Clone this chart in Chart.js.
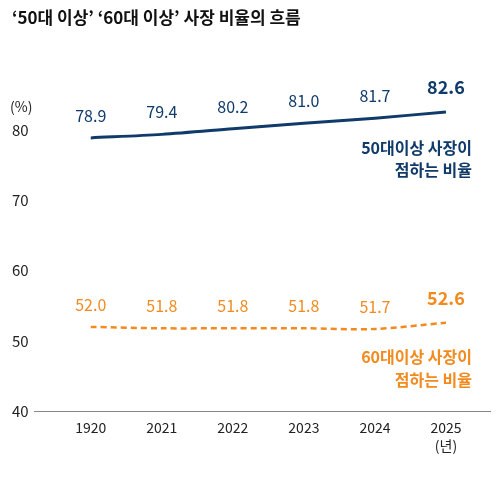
<!DOCTYPE html><html><head><meta charset="utf-8">
<script src="https://cdn.jsdelivr.net/npm/chart.js@4"></script>
<style>body{margin:0;background:#fff}#w{width:500px;height:480px}</style></head><body><div id="w"><canvas id="c"></canvas></div>
<script>
const categories=['1920','2021','2022','2023','2024','2025'];
const over50=[78.9,79.4,80.2,81.0,81.7,82.6];
const over60=[52.0,51.8,51.8,51.8,51.7,52.6];
const yTicks=[40,50,60,70,80];
const NAVY='#0f3a6a',ORANGE='#f28a1e';
const F="'Noto Sans CJK KR','Noto Sans',sans-serif";
const labels={id:'lab',afterDatasetsDraw(ch){const c=ch.ctx;c.save();
 c.fillStyle='#111';c.font="bold 17px "+F;c.textAlign='left';c.textBaseline='middle';
 c.fillText('‘50대 이상’ ‘60대 이상’ 사장 비율의 흐름',12,18);
 c.font="14px "+F;c.fillStyle='#222';c.fillText('(%)',10,107);
 const xs=ch.scales.x,ys=ch.scales.y;
 c.textAlign='center';c.fillText('(년)',xs.getPixelForValue(5),446);
 [[over50,NAVY],[over60,ORANGE]].forEach(([d,col])=>{c.fillStyle=col;d.forEach((v,i)=>{
  c.font=(i==5?"bold 18px ":"16px ")+F;
  c.fillText(v.toFixed(1),xs.getPixelForValue(i),ys.getPixelForValue(v)-(i==5?25:22));});});
 c.textAlign='right';c.font="bold 16px "+F;
 c.fillStyle=NAVY;c.fillText('50대이상 사장이',472,148);c.fillText('점하는 비율',472,170);
 c.fillStyle=ORANGE;c.fillText('60대이상 사장이',472,357);c.fillText('점하는 비율',472,380);
 c.restore();}};
new Chart(document.getElementById('c'),{type:'line',
 data:{datasets:[
  {data:over50.map((v,i)=>({x:i,y:v})),borderColor:NAVY,borderWidth:3,pointRadius:0,tension:0.3},
  {data:over60.map((v,i)=>({x:i,y:v})),borderColor:ORANGE,borderWidth:2.5,borderDash:[6,4],pointRadius:0,tension:0.3}]},
 options:{responsive:true,maintainAspectRatio:false,animation:false,
  layout:{padding:{top:88,bottom:36,left:6,right:10}},
  plugins:{legend:{display:false},tooltip:{enabled:false}},
  scales:{
   x:{type:'linear',min:-0.79,max:5.62,grid:{display:false,drawTicks:false},border:{color:'#888'},
    afterBuildTicks(s){s.ticks=categories.map((_,i)=>({value:i}));},
    ticks:{callback:(v)=>categories[v],padding:8,color:'#222',font:{size:14,family:F}}},
   y:{min:40,max:86,grid:{display:false,drawTicks:false},border:{display:false},
    afterBuildTicks(s){s.ticks=yTicks.map(v=>({value:v}));},
    ticks:{padding:6,color:'#222',font:{size:15,family:F}}}}},
 plugins:[labels]});
</script></body></html>
